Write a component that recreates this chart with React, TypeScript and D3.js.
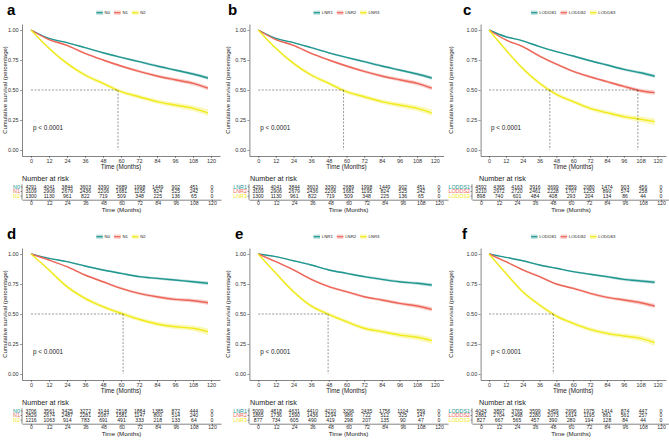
// Kaplan-Meier panels (a-f) with number-at-risk tables, drawn with D3
import React, { useEffect, useRef } from 'react';
import * as d3 from 'd3';

const survTimes = [0, 12, 24, 36, 48, 60, 72, 84, 96, 108, 118];
const tickMonths = [0, 12, 24, 36, 48, 60, 72, 84, 96, 108, 120];
const yTicks = [0, 0.25, 0.5, 0.75, 1];

const nLabels = ['N0', 'N1', 'N2'];
const lnrLabels = ['LNR1', 'LNR2', 'LNR3'];
const loddsLabels = ['LODDS1', 'LODDS2', 'LODDS3'];
const panelLetters = ['a', 'b', 'c', 'd', 'e', 'f'];

// survival estimates
const aS1 = [1, 0.93, 0.895, 0.853, 0.81, 0.772, 0.736, 0.7, 0.667, 0.633, 0.6];
const aS2 = [1, 0.92, 0.872, 0.805, 0.75, 0.7, 0.655, 0.617, 0.585, 0.555, 0.515];
const aS3 = [1, 0.847, 0.722, 0.625, 0.556, 0.486, 0.444, 0.403, 0.375, 0.347, 0.31];

const cS1 = [1, 0.944, 0.91, 0.861, 0.82, 0.783, 0.744, 0.708, 0.672, 0.644, 0.615];
const cS2 = [1, 0.917, 0.861, 0.783, 0.715, 0.655, 0.61, 0.57, 0.53, 0.494, 0.478];
const cS3 = [1, 0.833, 0.68, 0.556, 0.464, 0.403, 0.347, 0.311, 0.278, 0.256, 0.236];

const dS1 = [1, 0.964, 0.936, 0.9, 0.867, 0.839, 0.811, 0.797, 0.783, 0.769, 0.756];
const dS2 = [1, 0.95, 0.894, 0.825, 0.769, 0.714, 0.672, 0.644, 0.622, 0.611, 0.594];
const dS3 = [1, 0.867, 0.728, 0.631, 0.561, 0.506, 0.456, 0.417, 0.394, 0.381, 0.353];

const eS1 = [1, 0.978, 0.944, 0.908, 0.867, 0.839, 0.811, 0.789, 0.769, 0.756, 0.742];
const eS2 = [1, 0.936, 0.867, 0.789, 0.728, 0.686, 0.644, 0.617, 0.589, 0.567, 0.539];
const eS3 = [1, 0.839, 0.686, 0.567, 0.497, 0.436, 0.381, 0.353, 0.325, 0.306, 0.278];

const fS1 = [1, 0.972, 0.944, 0.908, 0.881, 0.853, 0.831, 0.811, 0.789, 0.775, 0.764];
const fS2 = [1, 0.936, 0.867, 0.811, 0.75, 0.714, 0.672, 0.639, 0.617, 0.594, 0.567];
const fS3 = [1, 0.839, 0.686, 0.575, 0.483, 0.422, 0.372, 0.339, 0.317, 0.297, 0.261];

// confidence band half-widths (teal, red, yellow)
const ciT = [0, 0.004, 0.005, 0.006, 0.007, 0.008, 0.009, 0.01, 0.011, 0.012, 0.014];
const ciR = [0, 0.005, 0.007, 0.008, 0.009, 0.01, 0.011, 0.012, 0.014, 0.016, 0.018];
const ciY = [0, 0.01, 0.013, 0.014, 0.015, 0.016, 0.017, 0.018, 0.02, 0.023, 0.027];

// median survival times (dashed lines)
const aMedians = [58];
const cMedians = [43.3, 106];
const dMedians = [61.4];
const eMedians = [47.5];
const fMedians = [45.8];

// number at risk
const aR1 = [4291, 4041, 3844, 3603, 3390, 2689, 1998, 1449, 902, 451, 0];
const aR2 = [3109, 2906, 2679, 2436, 2206, 1681, 1195, 824, 525, 242, 0];
const aR3 = [1300, 1130, 961, 822, 719, 509, 348, 225, 136, 65, 0];

const cR1 = [4592, 4365, 4163, 3916, 3699, 2859, 2080, 1474, 903, 456, 0];
const cR2 = [3210, 2972, 2720, 2461, 2228, 1707, 1253, 890, 574, 258, 0];
const cR3 = [898, 740, 601, 484, 408, 293, 204, 134, 86, 44, 0];

const dR1 = [3706, 3561, 3425, 3272, 3144, 2518, 1884, 1385, 872, 444, 0];
const dR2 = [2829, 2674, 2487, 2281, 2087, 1581, 1147, 800, 514, 240, 0];
const dR3 = [1216, 1063, 914, 783, 691, 491, 333, 218, 133, 64, 0];

const eR1 = [5009, 4818, 4631, 4410, 4210, 3296, 2435, 1756, 1104, 559, 0];
const eR2 = [1865, 1736, 1590, 1436, 1294, 986, 722, 512, 325, 147, 0];
const eR3 = [877, 734, 605, 490, 419, 298, 207, 135, 90, 47, 0];

const fR1 = [4043, 3897, 3765, 3599, 3459, 2696, 1975, 1414, 874, 447, 0];
const fR2 = [2881, 2704, 2498, 2280, 2073, 1614, 1195, 861, 561, 257, 0];
const fR3 = [827, 667, 565, 457, 390, 280, 194, 128, 84, 44, 0];

const colors = ['#20968F', '#EC6557', '#F0EA1C'];
const ciWidths = [ciT, ciR, ciY];
const FONT = '"Liberation Sans", Arial, Helvetica, sans-serif';

interface PanelData {
  labels: string[];
  surv: number[][];
  risk: number[][];
  medians: number[];
}

const panels: PanelData[] = [
  { labels: nLabels, surv: [aS1, aS2, aS3], risk: [aR1, aR2, aR3], medians: aMedians },
  { labels: lnrLabels, surv: [aS1, aS2, aS3], risk: [aR1, aR2, aR3], medians: aMedians },
  { labels: loddsLabels, surv: [cS1, cS2, cS3], risk: [cR1, cR2, cR3], medians: cMedians },
  { labels: nLabels, surv: [dS1, dS2, dS3], risk: [dR1, dR2, dR3], medians: dMedians },
  { labels: lnrLabels, surv: [eS1, eS2, eS3], risk: [eR1, eR2, eR3], medians: eMedians },
  { labels: loddsLabels, surv: [fS1, fS2, fS3], risk: [fR1, fR2, fR3], medians: fMedians },
];

// per-column geometry
const layout = [
  { axisX: 22, k: 1.5, titleX: 5, tableAxisX: 22, tk: 1.508, riskTitleX: 22 },
  { axisX: 249.4, k: 1.471, titleX: 228.3, tableAxisX: 249, tk: 1.508, riskTitleX: 250 },
  { axisX: 480.6, k: 1.404, titleX: 451, tableAxisX: 472, tk: 1.5, riskTitleX: 479 },
];
const letterX = [7, 228, 463, 7, 235, 462];
const rowOffset = 224;

type Sel = d3.Selection<SVGGElement, unknown, null, undefined>;

function styleAxis(ax: Sel, fontSize: number) {
  ax.attr('font-size', null).attr('font-family', null);
  ax.select('.domain').attr('stroke', '#333').attr('stroke-width', 0.6);
  ax.selectAll('.tick line').attr('stroke', '#333').attr('stroke-width', 0.5);
  ax.selectAll('.tick text')
    .attr('fill', '#333')
    .style('font-size', `${fontSize}px`)
    .style('font-family', FONT);
}

function drawPanel(svg: d3.Selection<SVGSVGElement, unknown, null, undefined>, p: PanelData, i: number) {
  const L = layout[i % 3];
  const dy = Math.floor(i / 3) * rowOffset;
  const g = svg.append('g').attr('transform', `translate(0,${dy})`);

  const x = d3.scaleLinear().domain([-6, 126]).range([L.axisX, L.axisX + 132 * L.k]);
  const y = d3.scaleLinear().domain([-0.05, 1.05]).range([156, 24]);

  // panel letter
  g.append('text')
    .attr('x', letterX[i])
    .attr('y', 14.5)
    .style('font-size', '15px')
    .style('font-weight', 'bold')
    .attr('fill', '#000')
    .text(panelLetters[i]);

  // legend
  const leg = g.append('g');
  let cx = 0;
  p.labels.forEach((lab, j) => {
    const item = leg.append('g').attr('transform', `translate(${cx},0)`);
    item.append('rect')
      .attr('x', 0).attr('y', -2.2).attr('width', 6.5).attr('height', 4.4)
      .attr('fill', colors[j]).attr('opacity', 0.3);
    item.append('line')
      .attr('x1', 0).attr('x2', 6.5).attr('y1', 0).attr('y2', 0)
      .attr('stroke', colors[j]).attr('stroke-width', 1.2);
    const t = item.append('text')
      .attr('x', 8.3).attr('y', 1.5)
      .style('font-size', '4.3px')
      .attr('fill', '#222')
      .text(lab);
    const w = (t.node() as SVGTextElement).getComputedTextLength();
    cx += 8.3 + w + 4;
  });
  const legW = cx - 4;
  leg.attr('transform', `translate(${(x(0) + x(120)) / 2 - legW / 2},12.7)`);

  // confidence bands
  p.surv.forEach((s, j) => {
    const pts = survTimes.map((t, k) => ({ t, s: s[k], ci: ciWidths[j][k] }));
    const area = d3.area<{ t: number; s: number; ci: number }>()
      .x(d => x(d.t))
      .y0(d => y(Math.max(0, d.s - d.ci)))
      .y1(d => y(Math.min(1, d.s + d.ci)))
      .curve(d3.curveMonotoneX);
    g.append('path').datum(pts)
      .attr('fill', colors[j]).attr('opacity', 0.3)
      .attr('d', area);
  });

  // survival curves
  p.surv.forEach((s, j) => {
    const pts = survTimes.map((t, k) => ({ t, s: s[k] }));
    const line = d3.line<{ t: number; s: number }>()
      .x(d => x(d.t))
      .y(d => y(d.s))
      .curve(d3.curveMonotoneX);
    g.append('path').datum(pts)
      .attr('fill', 'none')
      .attr('stroke', colors[j])
      .attr('stroke-width', 1.4)
      .attr('d', line);
  });

  // median lines
  const maxMed = d3.max(p.medians) ?? 0;
  g.append('line')
    .attr('x1', x(0)).attr('x2', x(maxMed))
    .attr('y1', y(0.5)).attr('y2', y(0.5))
    .attr('stroke', '#333').attr('stroke-width', 0.5).attr('stroke-dasharray', '2,1.5');
  p.medians.forEach(m => {
    g.append('line')
      .attr('x1', x(m)).attr('x2', x(m))
      .attr('y1', y(0.5)).attr('y2', y(0))
      .attr('stroke', '#333').attr('stroke-width', 0.5).attr('stroke-dasharray', '2,1.5');
  });

  // axes
  const gx = g.append('g').attr('transform', 'translate(0,156)')
    .call(d3.axisBottom(x).tickValues(tickMonths).tickSize(2).tickSizeOuter(0).tickPadding(1));
  styleAxis(gx, 5.5);
  const gy = g.append('g').attr('transform', `translate(${L.axisX},0)`)
    .call(d3.axisLeft(y).tickValues(yTicks).tickFormat(d3.format('.2f')).tickSize(2).tickSizeOuter(0).tickPadding(1.4));
  styleAxis(gy, 5.5);

  g.append('text')
    .attr('x', (x(0) + x(120)) / 2).attr('y', 168.5)
    .attr('text-anchor', 'middle')
    .style('font-size', '6.3px').attr('fill', '#222')
    .text('Time (Months)');

  g.append('text')
    .attr('transform', `translate(${L.titleX},${y(0.5)}) rotate(-90)`)
    .attr('dy', '0.35em')
    .attr('text-anchor', 'middle')
    .style('font-size', '6px').attr('fill', '#222')
    .text('Cumulative survival (percentage)');

  g.append('text')
    .attr('x', x(0) + 2).attr('y', y(0.17))
    .style('font-size', '6.3px').attr('fill', '#222')
    .text('p < 0.0001');

  // risk table
  const xt = d3.scaleLinear().domain([-6, 126]).range([L.tableAxisX, L.tableAxisX + 132 * L.tk]);
  const rowY = d3.scalePoint<string>().domain(p.labels).range([186.9, 196.1]);

  g.append('text')
    .attr('x', L.riskTitleX).attr('y', 180.8)
    .style('font-size', '7.2px').attr('fill', '#222')
    .text('Number at risk');

  g.append('line')
    .attr('x1', L.tableAxisX).attr('x2', L.tableAxisX)
    .attr('y1', 184.3).attr('y2', 199.7)
    .attr('stroke', '#333').attr('stroke-width', 0.6);

  p.labels.forEach((lab, j) => {
    const ry = rowY(lab) ?? 0;
    g.append('line')
      .attr('x1', L.tableAxisX - 1.5).attr('x2', L.tableAxisX)
      .attr('y1', ry).attr('y2', ry)
      .attr('stroke', '#333').attr('stroke-width', 0.5);
    g.append('text')
      .attr('x', L.tableAxisX - 2).attr('y', ry + 1.8)
      .attr('text-anchor', 'end')
      .style('font-size', '5.4px').attr('fill', colors[j])
      .text(lab);
    g.selectAll(null)
      .data(p.risk[j])
      .enter()
      .append('text')
      .attr('x', (_, k) => xt(tickMonths[k]))
      .attr('y', ry + 1.8)
      .attr('text-anchor', 'middle')
      .style('font-size', '5.1px')
      .attr('fill', '#222')
      .text(d => String(d));
  });

  const gt = g.append('g').attr('transform', 'translate(0,199.7)')
    .call(d3.axisBottom(xt).tickValues(tickMonths).tickSize(2).tickSizeOuter(0).tickPadding(0));
  styleAxis(gt, 5.2);

  g.append('text')
    .attr('x', (xt(0) + xt(120)) / 2).attr('y', 212.4)
    .attr('text-anchor', 'middle')
    .style('font-size', '6.2px').attr('fill', '#222')
    .text('Time (Months)');
}

const App: React.FC = () => {
  const ref = useRef<SVGSVGElement>(null);

  useEffect(() => {
    document.body.style.margin = '0';
    if (!ref.current) return;
    const svg = d3.select(ref.current);
    svg.selectAll('*').remove();
    panels.forEach((p, i) => drawPanel(svg, p, i));
  }, []);

  return (
    <svg
      ref={ref}
      width={669}
      height={441}
      style={{ display: 'block', background: '#fff', fontFamily: FONT }}
    />
  );
};

export default App;
